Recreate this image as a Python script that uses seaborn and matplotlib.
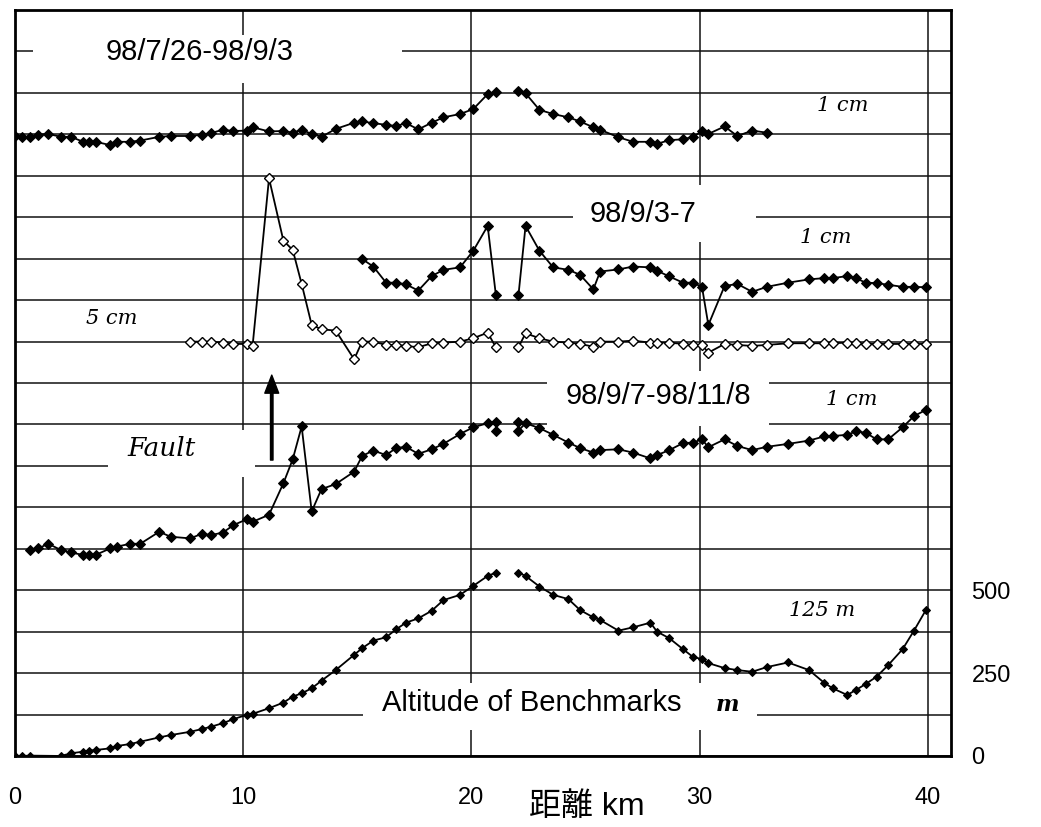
import numpy as np
import pandas as pd
import matplotlib
matplotlib.use('Agg')
import matplotlib.pyplot as plt
from matplotlib.patches import Rectangle
import seaborn as sns

nan = np.nan

# benchmark positions along the levelling route (km)
BENCH_KM = [0.00, 0.31, 0.67, 1.02, 1.46, 2.01, 2.45, 2.99, 3.26, 3.53,
            4.18, 4.46, 5.04, 5.49, 6.32, 6.82, 7.68, 8.18, 8.58, 9.11,
            9.57, 10.15, 10.41, 11.13, 11.76, 12.17, 12.56, 13.00, 13.43, 14.05,
            14.86, 15.21, 15.70, 16.26, 16.70, 17.13, 17.67, 18.26, 18.77, 19.50,
            20.08, 20.71, 21.07, 22.06, 22.37, 22.98, 23.58, 24.25, 24.76, 25.34,
            25.64, 26.44, 27.08, 27.84, 28.13, 28.67, 29.27, 29.70, 30.10, 30.38,
            31.09, 31.65, 32.30, 32.94, 33.87, 34.79, 35.45, 35.83, 36.46, 36.85,
            37.27, 37.75, 38.26, 38.89, 39.39, 39.91]
# the route is in two legs, no line between 21 km and 22 km
ROUTE_BREAK_KM = 21.5

# 98/7/26-98/9/3 (cm)
S1_CM = [-0.04, -0.06, -0.06, -0.01, 0.01, -0.06, -0.06, -0.18, -0.18, -0.18,
         -0.26, -0.18, -0.18, -0.15, -0.06, -0.04, -0.04, -0.01, 0.03, 0.11,
         0.08, 0.09, 0.17, 0.07, 0.08, 0.04, 0.11, 0.01, -0.06, 0.13,
         0.28, 0.31, 0.27, 0.23, 0.20, 0.27, 0.12, 0.28, 0.41, 0.49,
         0.61, 0.97, 1.03, 1.05, 0.99, 0.59, 0.49, 0.41, 0.31, 0.17,
         0.11, -0.07, -0.18, -0.18, -0.23, -0.14, -0.12, -0.06, 0.07, 0.01,
         0.19, -0.04, 0.09, 0.04] + [nan] * 12

# 98/9/3-7 (cm), 1 cm scale
S2_CM = [nan] * 31 + [
    -0.01, -0.19, -0.58, -0.58, -0.62, -0.77, -0.42, -0.27, -0.21,
    0.19, 0.79, -0.88, -0.88, 0.79, 0.19, -0.21, -0.27, -0.39, -0.74,
    -0.31, -0.26, -0.19, -0.21, -0.29, -0.43, -0.58, -0.58, -0.68, -1.60,
    -0.66, -0.61, -0.80, -0.68, -0.58, -0.50, -0.47, -0.47, -0.42, -0.47,
    -0.58, -0.59, -0.63, -0.68, -0.68, -0.69]

# 98/9/3-7 (cm), 5 cm scale, open markers
S2_WIDE_CM = [nan] * 16 + [
    -0.01, -0.01, -0.01, -0.13,
    -0.29, -0.29, -0.53, 19.70, 12.17, 11.05, 6.95, 2.00, 1.48, 1.32,
    -2.14, -0.01, -0.01, -0.41, -0.41, -0.53, -0.69, -0.21, -0.13, -0.01,
    0.40, 1.07, -0.69, -0.69, 1.00, 0.40, -0.01, -0.13, -0.29, -0.62,
    -0.01, -0.01, 0.11, -0.13, -0.13, -0.13, -0.29, -0.41, -0.41, -1.34,
    -0.29, -0.41, -0.53, -0.41, -0.21, -0.21, -0.21, -0.21, -0.13, -0.21,
    -0.29, -0.29, -0.29, -0.29, -0.29, -0.29]

# 98/9/7-98/11/8 (cm)
S3_CM = [nan, nan, -0.03, 0.01, 0.12, -0.03, -0.09, -0.15, -0.15, -0.15,
         0.01, 0.05, 0.12, 0.12, 0.41, 0.29, 0.25, 0.36, 0.33, 0.39,
         0.57, 0.71, 0.65, 0.82, 1.58, 2.16, 2.95, 0.90, 1.44, 1.56,
         1.86, 2.24, 2.37, 2.26, 2.43, 2.46, 2.29, 2.40, 2.53, 2.77,
         2.93, 3.03, 3.07, 3.07, 3.03, 2.91, 2.75, 2.56, 2.43, 2.32,
         2.38, 2.40, 2.32, 2.18, 2.26, 2.38, 2.55, 2.56, 2.64, 2.45,
         2.64, 2.48, 2.38, 2.46, 2.53, 2.61, 2.71, 2.72, 2.75, 2.83,
         2.80, 2.64, 2.64, 2.93, 3.20, 3.35]
# second reading at the leg ends
S3_REPEAT_KM = [21.07, 22.06]
S3_REPEAT_CM = [2.85, 2.85]

# altitude of benchmarks (m)
ALT_M = [0, 0, 1, nan, nan, 0, 8, 13, 16, 18,
         23, 30, 36, 43, 56, 63, 73, 81, 88, 99,
         111, 124, 127, 144, 161, 179, 189, 204, 227, 259,
         305, 325, 348, 358, 382, 402, 415, 438, 470, 486,
         513, 543, 553, 553, 543, 511, 486, 473, 440, 418,
         410, 378, 388, 402, 375, 355, 322, 299, 292, 280,
         265, 259, 254, 268, 282, 259, 221, 204, 184, 199,
         217, 239, 274, 322, 378, 440]

X_TICKS = [0, 10, 20, 30, 40]
ALT_TICKS = [0, 250, 500]
ALT_PER_DIV = 125
N_DIV = 18


def profile(values, baseline, per_div, extra_km=(), extra_vals=()):
    df = pd.DataFrame({'km': list(BENCH_KM) + list(extra_km),
                       'val': list(values) + list(extra_vals)})
    df = df.dropna().sort_values('km', kind='stable')
    df['u'] = baseline + df['val'] / per_div
    df['leg'] = np.where(df['km'] < ROUTE_BREAK_KM, 'a', 'b')
    return df


s1 = profile(S1_CM, 15, 1)
s2 = profile(S2_CM, 12, 1)
s2w = profile(S2_WIDE_CM, 10, 5)
s3 = profile(S3_CM, 5, 1, S3_REPEAT_KM, S3_REPEAT_CM)
alt = profile(ALT_M, 0, ALT_PER_DIV)

sns.set_theme(style='white')
plt.rcParams['font.family'] = ['Liberation Sans', 'Noto Sans CJK JP', 'DejaVu Sans']
plt.rcParams['text.color'] = 'black'
plt.rcParams['axes.labelcolor'] = 'black'
plt.rcParams['xtick.color'] = 'black'
plt.rcParams['ytick.color'] = 'black'

fig, ax = plt.subplots(figsize=(10.41, 8.27), dpi=100)
fig.subplots_adjust(left=0.0144, right=0.9133, bottom=0.0859, top=0.9879)

line_kw = dict(units='leg', estimator=None, sort=False, legend=False, ax=ax,
               color='black', linewidth=1.3, marker='D', markeredgecolor='black')
for df in (s1, s2, s3):
    sns.lineplot(data=df, x='km', y='u', markersize=5.2, **line_kw)
sns.lineplot(data=s2w, x='km', y='u', markersize=4.6, markerfacecolor='white',
             markeredgewidth=1.0, **line_kw)
sns.lineplot(data=alt, x='km', y='u', markersize=3.8, **line_kw)

ax.set_xlim(0, 41)
ax.set_ylim(0, N_DIV)
ax.set_xticks(X_TICKS)
ax.set_xticklabels([str(t) for t in X_TICKS])
ax.yaxis.tick_right()
ax.set_yticks([v / ALT_PER_DIV for v in ALT_TICKS])
ax.set_yticklabels([str(v) for v in ALT_TICKS])
ax.set_yticks(range(N_DIV + 1), minor=True)
ax.set_axisbelow(True)
grid_kw = dict(color='#111111', linewidth=1.1)
ax.grid(True, axis='x', which='major', **grid_kw)
ax.grid(True, axis='y', which='both', **grid_kw)
ax.tick_params(axis='x', length=0, pad=22, labelsize=17)
ax.tick_params(axis='y', which='both', length=0, pad=15, labelsize=17)
for sp in ax.spines.values():
    sp.set_visible(True)
    sp.set_color('black')
    sp.set_linewidth(2)
ax.set_ylabel('')
ax.set_xlabel('距離 km', fontsize=23)
ax.xaxis.set_label_coords(0.611, -0.048)

# white patches where the labels cut the grid
for x0, y0, x1, y1 in [(0.79, 16.24, 16.96, 17.40), (24.45, 12.40, 32.47, 13.78),
                       (4.08, 6.73, 10.52, 7.87), (23.31, 7.95, 33.04, 9.29),
                       (15.25, 0.63, 32.52, 1.76)]:
    ax.add_patch(Rectangle((x0, y0), x1 - x0, y1 - y0, facecolor='white',
                           edgecolor='none', zorder=1))

sans = dict(fontsize=21, ha='center', va='center', zorder=3)
serif = dict(family='DejaVu Serif', style='italic', ha='center', va='center', zorder=3)
ax.text(8.11, 16.99, '98/7/26-98/9/3', **sans)
ax.text(27.52, 13.08, '98/9/3-7', **sans)
ax.text(28.18, 8.69, '98/9/7-98/11/8', **sans)
ax.text(22.66, 1.28, 'Altitude of Benchmarks', **sans)
ax.text(36.28, 15.69, '1 cm', fontsize=15, **serif)
ax.text(35.50, 12.52, '1 cm', fontsize=15, **serif)
ax.text(36.68, 8.59, '1 cm', fontsize=15, **serif)
ax.text(4.25, 10.55, '5 cm', fontsize=15, **serif)
ax.text(35.36, 3.52, '125 m', fontsize=15, **serif)
ax.text(6.44, 7.41, 'Fault', fontsize=19, **serif)
ax.text(31.24, 1.23, 'm', fontsize=16, weight='bold', **serif)

ax.annotate('', xy=(11.25, 9.19), xytext=(11.25, 7.14),
            arrowprops=dict(facecolor='black', edgecolor='black', width=1.8,
                            headwidth=10, headlength=13, shrink=0))

fig.savefig('out.png', dpi=100)
